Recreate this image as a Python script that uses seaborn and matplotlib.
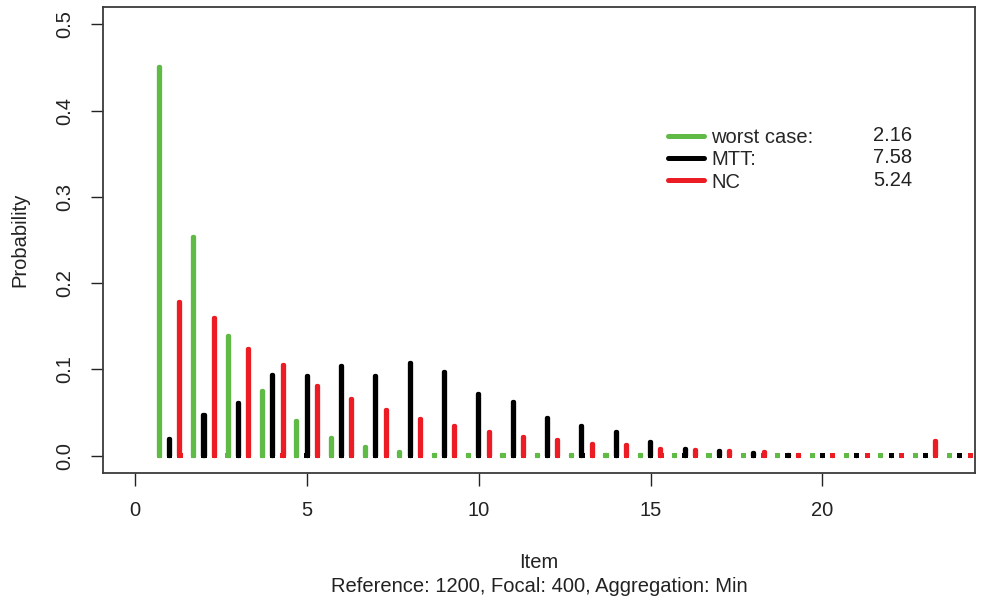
import matplotlib
matplotlib.use("Agg")
import matplotlib.pyplot as plt
from matplotlib.lines import Line2D
import numpy as np
import pandas as pd
import seaborn as sns

# Item probability distributions for three ranking strategies
items = list(range(1, 25))
worst_case = [0.450, 0.254, 0.139, 0.075, 0.040, 0.020, 0.010, 0.004, 0.001, 0.001,
              0.001, 0.001, 0.0005, 0.0005, 0.0005, 0.0, 0.0, 0.0, 0.0, 0.0,
              0.0, 0.0, 0.0, 0.0]
mtt = [0.019, 0.047, 0.061, 0.093, 0.092, 0.104, 0.092, 0.108, 0.097, 0.072,
       0.062, 0.044, 0.035, 0.027, 0.016, 0.008, 0.005, 0.003, 0.001, 0.0,
       0.0, 0.0, 0.0, 0.0]
nc = [0.178, 0.160, 0.124, 0.105, 0.081, 0.066, 0.053, 0.043, 0.035, 0.028,
      0.022, 0.018, 0.014, 0.012, 0.008, 0.007, 0.005, 0.004, 0.001, 0.0,
      0.0, 0.0, 0.017, 0.0]

series_names = ["worst case", "MTT", "NC"]
legend_labels = ["worst case:", "MTT:", "NC"]
expected_items = ["2.16", "7.58", "5.24"]
colors = {"worst case": "#5fba46", "MTT": "#000000", "NC": "#ec1c24"}
offsets = {"worst case": -0.3, "MTT": 0.0, "NC": 0.3}

x_ticks = [0, 5, 10, 15, 20]
y_ticks = [0.0, 0.1, 0.2, 0.3, 0.4, 0.5]

df = pd.concat([
    pd.DataFrame({"Item": items, "Probability": vals, "series": name})
    for name, vals in zip(series_names, [worst_case, mtt, nc])
], ignore_index=True)
df["pos"] = df["Item"] + df["series"].map(offsets)

sns.set_theme(style="ticks")
plt.rcParams["font.family"] = ["Liberation Sans", "DejaVu Sans"]
plt.rcParams["font.size"] = 14.5

fig = plt.figure(figsize=(9.82, 6.0), dpi=100)
ax = fig.add_axes([103 / 982, 1 - 473 / 600, 872 / 982, 466 / 600])

sns.barplot(data=df, x="Item", y="Probability", hue="series",
            hue_order=series_names, palette=colors, native_scale=True,
            width=0.9, gap=0.9, dodge=True, errorbar=None, saturation=1,
            legend=False, ax=ax)

# Thick rounded outlines give each spike a line-like look
for patch in ax.patches:
    fc = patch.get_facecolor()
    patch.set_edgecolor(fc)
    patch.set_linewidth(3.1)
    patch.set_joinstyle("round")

# Base caps of each spike (visible on their own where the probability is zero)
base = df.assign(zero=0.0)
sns.scatterplot(data=base, x="pos", y="zero", hue="series", hue_order=series_names,
                palette=colors, marker="s", s=14, linewidth=0, legend=False, ax=ax)

ax.set_xlim(-0.94, 24.44)
ax.set_ylim(-0.02, 0.52)
ax.set_xticks(x_ticks)
ax.set_xticklabels([str(t) for t in x_ticks])
ax.set_yticks(y_ticks)
ax.set_yticklabels([f"{t:.1f}" for t in y_ticks], rotation=90, va="center")

for side in ["left", "right", "top", "bottom"]:
    ax.spines[side].set_visible(True)
    ax.spines[side].set_color("#3a3a3a")
    ax.spines[side].set_linewidth(1.3)

ax.tick_params(axis="x", length=9, width=1.0, pad=11, labelsize=14.5, colors="#222222")
ax.tick_params(axis="y", length=9, width=1.0, pad=12, labelsize=14.5, colors="#222222")

ax.set_xlabel("Item", fontsize=14.5, color="#222222")
ax.xaxis.set_label_coords(0.5, -0.172)
ax.set_ylabel("Probability", fontsize=14.5, color="#222222")
ax.yaxis.set_label_coords(-0.084, 0.5)

fig.text(539 / 982, 1 - 586 / 600, "Reference: 1200, Focal: 400, Aggregation: Min",
         ha="center", va="center", fontsize=14.5, color="#222222")

handles = [Line2D([0], [0], color=colors[n], lw=3.6, solid_capstyle="round")
           for n in series_names]
ax.legend(handles, legend_labels, loc="upper left", bbox_to_anchor=(0.648, 0.741),
          frameon=False, borderpad=0, borderaxespad=0, handlelength=1.8,
          handletextpad=0.35, labelspacing=0.17, fontsize=14.5)

for yv, val in zip([0.725, 0.676, 0.627], expected_items):
    ax.text(0.928, yv, val, transform=ax.transAxes, ha="right", va="center",
            fontsize=14.5, color="#222222")

fig.savefig("out.png", dpi=100)
